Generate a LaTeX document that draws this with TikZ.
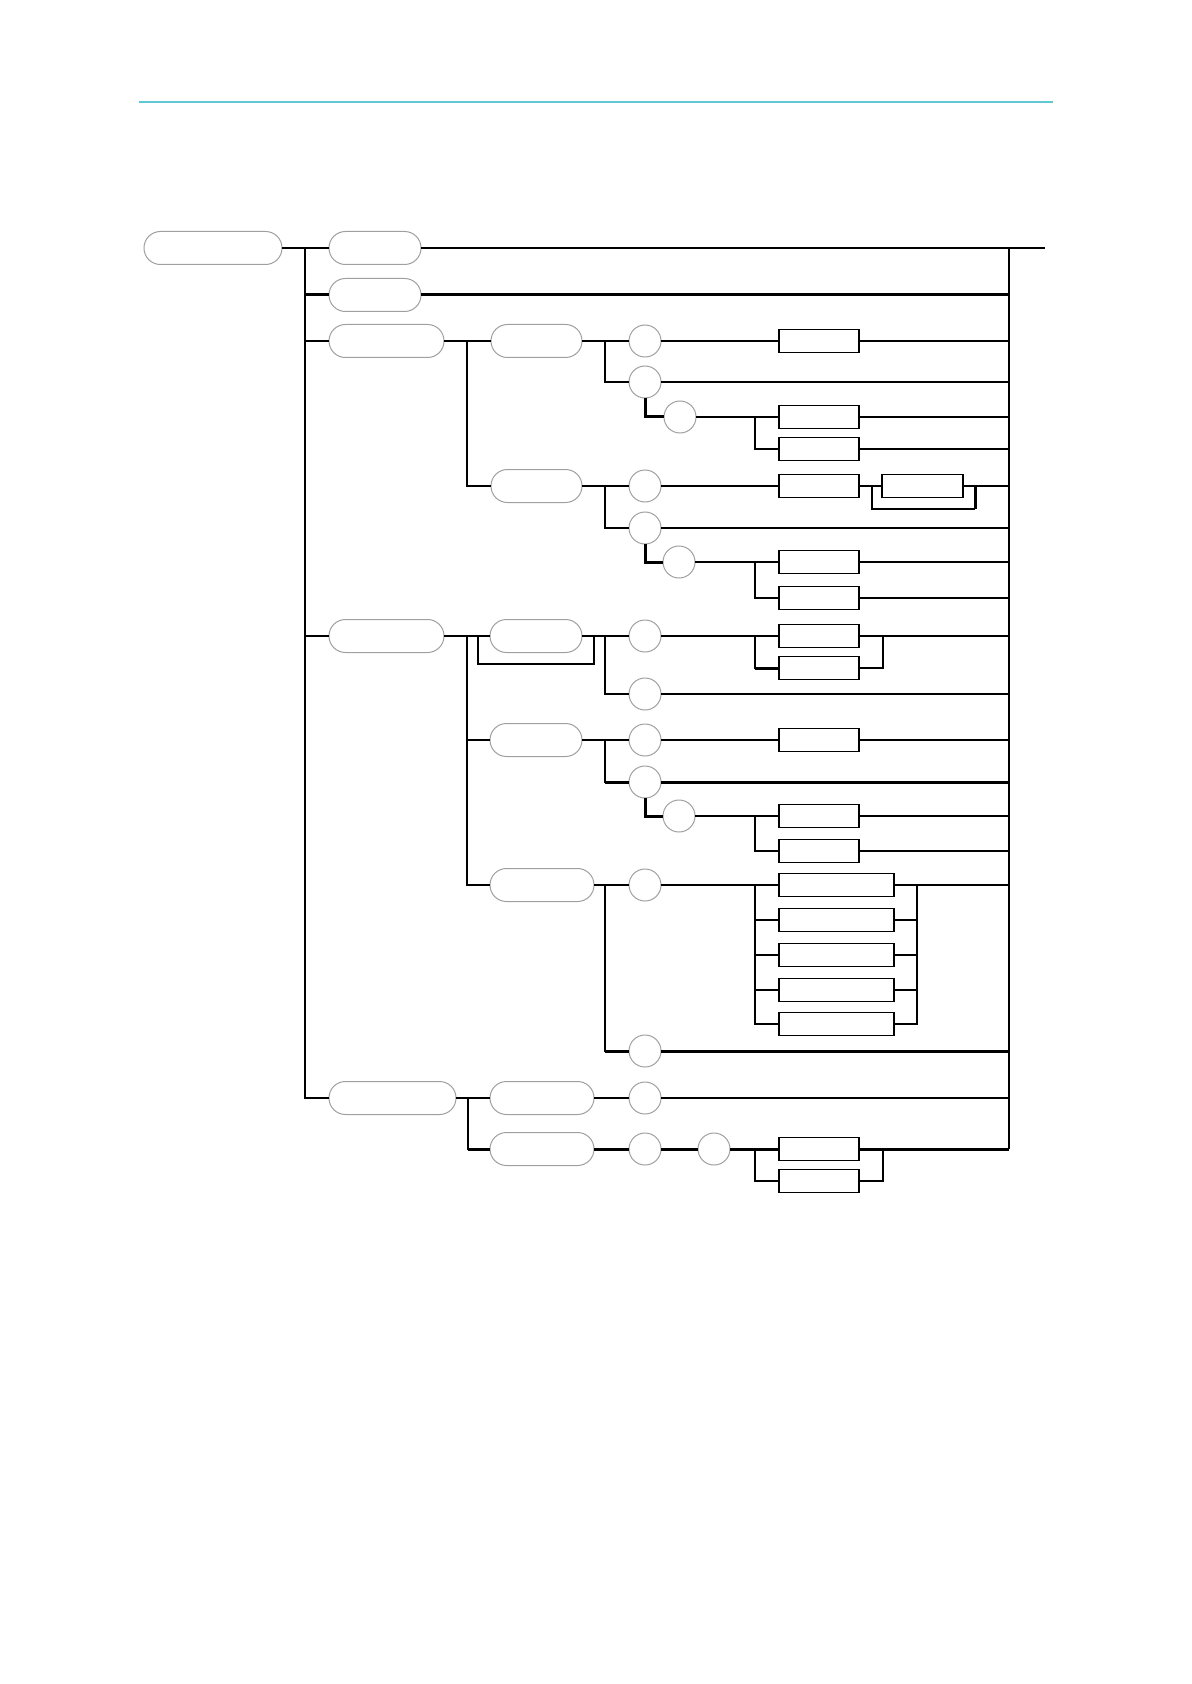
\documentclass[tikz,border=0pt]{standalone}
\usepackage{tikz}
\usetikzlibrary{positioning}
\definecolor{rulecyan}{RGB}{95,200,210}

\begin{document}
\begin{tikzpicture}[
    x=0.5pt, y=-0.5pt,
    line width=0.65pt,
    pill/.style={
      draw=gray!75,
      line width=0.5pt,
      rounded corners=8.2pt,
      minimum height=16.5pt,
      inner sep=0pt,
      outer sep=0pt
    },
    ring/.style={
      draw=gray!75,
      line width=0.5pt,
      circle,
      minimum size=16pt,
      inner sep=0pt,
      outer sep=0pt
    },
    box/.style={
      draw,
      minimum width=40pt,
      minimum height=11.5pt,
      inner sep=0pt,
      outer sep=0pt
    },
    wbox/.style={box, minimum width=57.5pt},
    heavy/.style={line width=1.5pt}
]
  \useasboundingbox (0,0) rectangle (1191,1684);

  % Page rule
  \draw[line width=0.65pt, rulecyan] (139,102) -- (1053,102);

  % Left column of pills
  \node[pill, minimum width=69pt] (p0) at (213,248) {};
  \node[pill, minimum width=46pt] (pA) at (375,248) {};
  \node[pill, minimum width=46pt] (pB) at (375,295) {};
  \node[pill, minimum width=57.5pt] (pC) at (386.5,341) {};
  \node[pill, minimum width=57.5pt] (pD) at (386.5,636) {};
  \node[pill, minimum width=63.5pt] (pE) at (392.5,1098) {};

  % Second column of pills
  \node[pill, minimum width=45.5pt] (pC1) at (536.5,341) {};
  \node[pill, minimum width=45.5pt] (pC2) at (536.5,486) {};
  \node[pill, minimum width=46pt] (pD1) at (536,636) {};
  \node[pill, minimum width=46pt] (pD2) at (536,740) {};
  \node[pill, minimum width=52pt] (pD3) at (542,885) {};
  \node[pill, minimum width=52pt] (pE1) at (542,1098) {};
  \node[pill, minimum width=52pt] (pE2) at (542,1149) {};

  % Circles
  \node[ring] (c1) at (645,341) {};
  \node[ring] (c2) at (645,382) {};
  \node[ring] (c3) at (680,417) {};
  \node[ring] (c4) at (645,486) {};
  \node[ring] (c5) at (645,528) {};
  \node[ring] (c6) at (679,562) {};
  \node[ring] (c7) at (645,636) {};
  \node[ring] (c8) at (645,694) {};
  \node[ring] (c9) at (645,740) {};
  \node[ring] (c10) at (645,782) {};
  \node[ring] (c11) at (679,816) {};
  \node[ring] (c12) at (645,885) {};
  \node[ring] (c13) at (645,1051) {};
  \node[ring] (c14) at (645,1098) {};
  \node[ring] (c15) at (645,1149) {};
  \node[ring] (c16) at (714,1149) {};

  % Boxes
  \node[box] (r1) at (819,341) {};
  \node[box] (r2) at (819,417) {};
  \node[box] (r3) at (819,449) {};
  \node[box] (r4) at (819,486) {};
  \node[box, minimum width=40.5pt] (r5) at (922.5,486) {};
  \node[box] (r6) at (819,562) {};
  \node[box] (r7) at (819,598) {};
  \node[box] (r8) at (819,636) {};
  \node[box] (r9) at (819,668) {};
  \node[box] (r10) at (819,740) {};
  \node[box] (r11) at (819,816) {};
  \node[box] (r12) at (819,851) {};
  \node[box] (r13) at (819,1149) {};
  \node[box] (r14) at (819,1181) {};
  \foreach \i/\y in {1/885, 2/920, 3/955, 4/990, 5/1024}
    \node[wbox] (w\i) at (836.5,\y) {};

  % Buses
  \coordinate (mb) at (305,248);
  \coordinate (rb) at (1009,248);
  \coordinate (out) at (1045,248);
  \coordinate (cb) at (467,341);
  \coordinate (db) at (467,636);
  \coordinate (eb) at (468,1098);

  % Main bus
  \draw (p0.east) -- (pA.west);
  \draw (pA.east) -- (out);
  \draw (rb) -- (rb |- r13);
  \draw (mb) |- (pE.west);
  \draw[heavy] (mb |- pB) -- (pB.west);
  \draw[heavy] (pB.east) -- (rb |- pB);
  \draw (mb |- pC) -- (pC.west);
  \draw (mb |- pD) -- (pD.west);

  % C branch
  \draw (pC.east) -- (pC1.west);
  \draw (cb) |- (pC2.west);
  \draw (pC1.east) -- (c1.west);
  \draw (c1.west) ++(-24,0) |- (c2.west);
  \draw (c1.east) -- (r1.west);
  \draw (r1.east) -- (rb |- r1);
  \draw (c2.east) -- (rb |- c2);
  \draw[heavy] (c2.south) |- (c3.west);
  \draw (c3.east) -- (r2.west);
  \draw (r2.west) ++(-24,0) |- (r3.west);
  \draw (r2.east) -- (rb |- r2);
  \draw (r3.east) -- (rb |- r3);

  \draw (pC2.east) -- (c4.west);
  \draw (c4.west) ++(-24,0) |- (c5.west);
  \draw (c4.east) -- (r4.west);
  \draw (r4.east) -- (r5.west);
  \draw (r5.east) -- (rb |- r5);
  \draw (r5.west) ++(-10,0) -- ++(0,23) -- ++(103,0);
  \draw[heavy] (r5.east) ++(12,0) -- ++(0,23);
  \draw (c5.east) -- (rb |- c5);
  \draw[heavy] (c5.south) |- (c6.west);
  \draw (c6.east) -- (r6.west);
  \draw (r6.west) ++(-24,0) |- (r7.west);
  \draw (r6.east) -- (rb |- r6);
  \draw (r7.east) -- (rb |- r7);

  % D branch
  \draw (pD.east) -- (pD1.west);
  \draw (db) |- (pD3.west);
  \draw (db |- pD2) -- (pD2.west);
  \draw (pD1.west) ++(-12,0) -- ++(0,28) -| ([xshift=6pt]pD1.east);
  \draw (pD1.east) -- (c7.west);
  \draw (c7.west) ++(-24,0) |- (c8.west);
  \draw (c7.east) -- (r8.west);
  \draw (r8.west) ++(-24,0) |- (r9.west);
  \draw[heavy] (r9.west) -- ++(-24,0);
  \draw (r8.east) -- (rb |- r8);
  \draw (r9.east) -| ([xshift=12pt]r8.east);
  \draw (c8.east) -- (rb |- c8);

  \draw (pD2.east) -- (c9.west);
  \draw (c9.west) ++(-24,0) |- (c10.west);
  \draw[heavy] (c10.west) -- ++(-24,0);
  \draw (c9.east) -- (r10.west);
  \draw (r10.east) -- (rb |- r10);
  \draw[heavy] (c10.east) -- (rb |- c10);
  \draw[heavy] (c10.south) |- (c11.west);
  \draw (c11.east) -- (r11.west);
  \draw (r11.west) ++(-24,0) |- (r12.west);
  \draw (r11.east) -- (rb |- r11);
  \draw (r12.east) -- (rb |- r12);

  \draw (pD3.east) -- (c12.west);
  \draw (c12.west) ++(-24,0) |- (c13.west);
  \draw[heavy] (c13.west) -- ++(-24,0);
  \draw[heavy] (c13.east) -- (rb |- c13);
  \draw (c12.east) -- (w1.west);
  \draw (w1.east) -- (rb |- w1);
  \foreach \i in {2,...,5} {
    \draw (w1.west) ++(-24,0) |- (w\i.west);
    \draw (w\i.east) -| ([xshift=11.5pt]w1.east);
  }

  % E branch
  \draw (pE.east) -- (pE1.west);
  \draw (eb) |- (pE2.west);
  \draw[heavy] (pE2.west) -- ++(-22,0);
  \draw (pE1.east) -- (c14.west);
  \draw (c14.east) -- (rb |- c14);
  \draw[heavy] (pE2.east) -- (c15.west);
  \draw[heavy] (c15.east) -- (c16.west);
  \draw[heavy] (c16.east) -- (r13.west);
  \draw (r13.west) ++(-24,0) |- (r14.west);
  \draw (r14.east) -| ([xshift=12pt]r13.east);
  \draw[heavy] (r13.east) -- (rb |- r13);
\end{tikzpicture}
\end{document}
